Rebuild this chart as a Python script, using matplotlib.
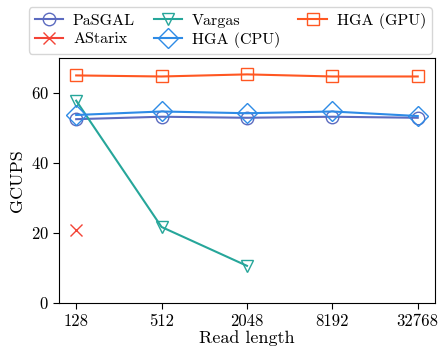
import matplotlib
matplotlib.use('Agg')
import matplotlib.pyplot as plt

# Données
read_lengths = ['128', '512', '2048', '8192', '32768']
pasgal = [52.5, 53.2, 52.9, 53.2, 52.9]
astarix = [20.7]
vargas = [57.8, 21.7, 10.6]
hga_cpu = [53.7, 54.7, 54.2, 54.7, 53.4]
hga_gpu = [65.0, 64.7, 65.3, 64.7, 64.7]

plt.rcParams['font.family'] = 'serif'
plt.rcParams['font.serif'] = ['cmr10']
plt.rcParams['mathtext.fontset'] = 'cm'
plt.rcParams['axes.formatter.use_mathtext'] = True

fig = plt.figure(figsize=(4.41, 3.49), dpi=100)
ax = fig.add_axes([0.134, 0.132, 0.852, 0.702])

x = list(range(len(read_lengths)))
style = dict(markerfacecolor='none', markersize=9, linewidth=1.5, markeredgewidth=1.0)

ax.plot(x, pasgal, marker='o', color='#5c6bc0', label='PaSGAL', **style)
ax.plot(x[:1], astarix, marker='x', color='#f44336', label='AStarix', **style)
ax.plot(x[:3], vargas, marker='v', color='#26a69a', label='Vargas', **style)
ax.plot(x, hga_cpu, marker='D', color='#2e8be6', label='HGA (CPU)', **dict(style, markersize=10))
ax.plot(x, hga_gpu, marker='s', color='#ff5722', label='HGA (GPU)', **style)

ax.set_xticks(x)
ax.set_xticklabels(read_lengths)
ax.set_xlim(-0.2, 4.2)
ax.set_ylim(0, 70)
ax.set_yticks([0, 20, 40, 60])
ax.tick_params(labelsize=12, length=4)
ax.set_xlabel('Read length', fontsize=13, labelpad=1)
ax.set_ylabel('GCUPS', fontsize=13)

ax.legend(ncol=3, loc='lower right', bbox_to_anchor=(1.0, 1.005),
          fontsize=11.5, frameon=True, fancybox=True, edgecolor='#cccccc',
          handlelength=1.8, handletextpad=0.6, columnspacing=1.15,
          borderpad=0.35, labelspacing=0.25, borderaxespad=0.2)

fig.savefig('out.png', dpi=100)
